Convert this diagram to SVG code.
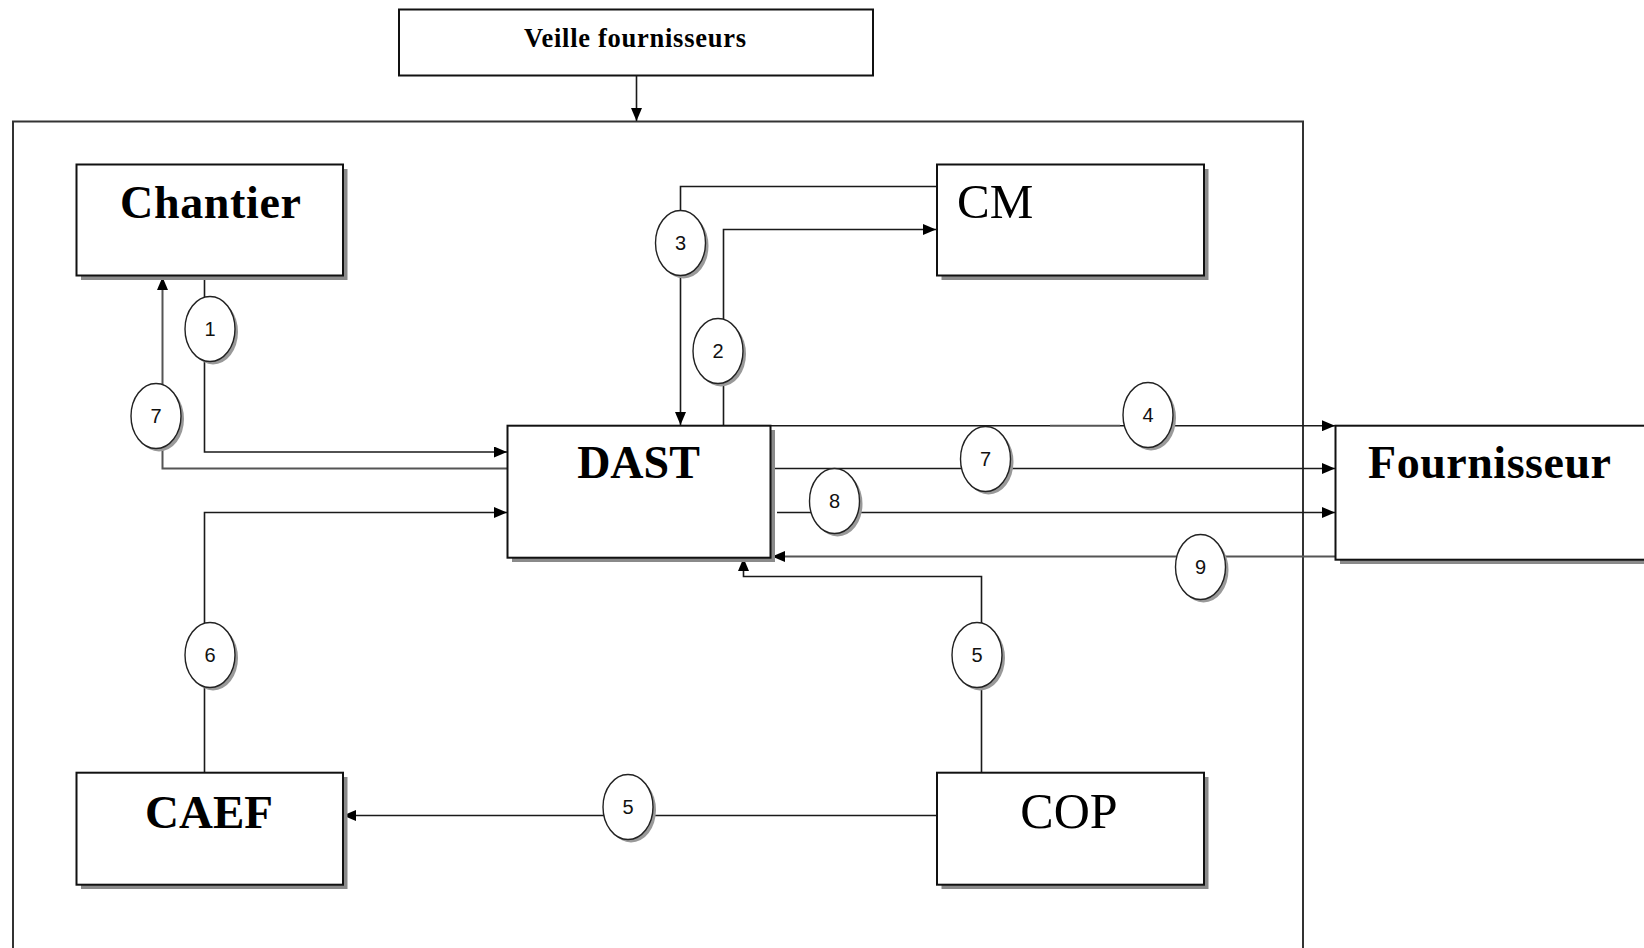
<svg xmlns="http://www.w3.org/2000/svg" width="1644" height="948" viewBox="0 0 1644 948">
<style>
.box{fill:#fff;stroke:#111;stroke-width:2}
.shadow{fill:#8a8a8a}
.outer{fill:none;stroke:#333;stroke-width:2}
.ln{fill:none;stroke:#1a1a1a;stroke-width:1.6}
.lg{fill:none;stroke:#555;stroke-width:2}
.ell{fill:#fff;stroke:#222;stroke-width:1.4}
.esh{fill:#999}
.num{font-family:"Liberation Sans",Arial,sans-serif;font-size:20px;fill:#111;text-anchor:middle}
.tb{font-family:"Liberation Serif","Times New Roman",serif;font-weight:bold;fill:#000}
.tr{font-family:"Liberation Serif","Times New Roman",serif;fill:#000}
</style>
<defs>
<marker id="arr" markerUnits="userSpaceOnUse" markerWidth="13" markerHeight="11" refX="13" refY="5.5" orient="auto">
<path d="M0,0 L13,5.5 L0,11 z" fill="#000"/>
</marker>
</defs>
<rect width="1644" height="948" fill="#fff"/>

<g id="outer">
<rect class="outer" x="13" y="121.5" width="1290" height="840"/>
</g>

<g id="veille">
<rect class="box" x="399" y="9.5" width="474" height="66" stroke-width="1.8"/>
<text class="tb" x="524" y="47" font-size="26.5" textLength="222">Veille fournisseurs</text>
</g>

<g id="connectors">
<path class="ln" d="M636.5,75.5 V121" marker-end="url(#arr)"/>
<path class="ln" d="M204.5,276 V452 H507" marker-end="url(#arr)"/>
<path class="lg" d="M507,468.5 H162.5 V277" marker-end="url(#arr)"/>
<path class="ln" d="M204.5,773 V512.5 H507" marker-end="url(#arr)"/>
<path class="ln" d="M937,186.5 H680.5 V425" marker-end="url(#arr)"/>
<path class="ln" d="M723.5,432 V229.5 H936" marker-end="url(#arr)"/>
<path class="ln" d="M770,425.7 H1050"/>
<path class="lg" d="M1050,425.7 H1120"/>
<path class="ln" d="M1120,425.7 H1335" marker-end="url(#arr)"/>
<path class="ln" d="M772,468.5 H1335" marker-end="url(#arr)"/>
<path class="ln" d="M777,512.5 H1335" marker-end="url(#arr)"/>
<path class="lg" d="M1336,556.5 H772" marker-end="url(#arr)"/>
<path class="ln" d="M981.5,773 V576.5 H743.5 V558" marker-end="url(#arr)"/>
<path class="ln" d="M937,815.5 H343" marker-end="url(#arr)"/>
</g>

<g id="chantier">
<rect class="shadow" x="81" y="169" width="266.5" height="111"/>
<rect class="box" x="76.5" y="164.5" width="266.5" height="111"/>
<text class="tb" x="120" y="218" font-size="46" textLength="181">Chantier</text>
</g>

<g id="cm">
<rect class="shadow" x="941.5" y="169" width="267" height="111"/>
<rect class="box" x="937" y="164.5" width="267" height="111"/>
<text class="tr" x="957" y="218" font-size="49">CM</text>
</g>

<g id="dast">
<rect class="shadow" x="512" y="430" width="263" height="132"/>
<rect class="box" x="507.5" y="425.7" width="263" height="132"/>
<text class="tb" x="638.5" y="478" font-size="46" text-anchor="middle">DAST</text>
</g>

<g id="fournisseur">
<rect class="shadow" x="1340" y="430" width="320" height="134"/>
<rect class="box" x="1335.5" y="425.7" width="320" height="134"/>
<text class="tb" x="1368" y="478" font-size="46" textLength="243">Fournisseur</text>
</g>

<g id="caef">
<rect class="shadow" x="81" y="777" width="266.5" height="112"/>
<rect class="box" x="76.5" y="772.7" width="266.5" height="112"/>
<text class="tb" x="209" y="828" font-size="47" text-anchor="middle">CAEF</text>
</g>

<g id="cop">
<rect class="shadow" x="941.5" y="777" width="267" height="112"/>
<rect class="box" x="937" y="772.7" width="267" height="112"/>
<text class="tr" x="1069" y="828" font-size="50" text-anchor="middle">COP</text>
</g>

<g id="label-1"><ellipse class="esh" cx="213" cy="332" rx="25" ry="32.5"/><ellipse class="ell" cx="210" cy="329" rx="25" ry="32.5"/><text class="num" x="210" y="336">1</text></g>
<g id="label-7a"><ellipse class="esh" cx="159" cy="419" rx="25" ry="32.5"/><ellipse class="ell" cx="156" cy="416" rx="25" ry="32.5"/><text class="num" x="156" y="423">7</text></g>
<g id="label-3"><ellipse class="esh" cx="683.5" cy="246" rx="25" ry="32.5"/><ellipse class="ell" cx="680.5" cy="243" rx="25" ry="32.5"/><text class="num" x="680.5" y="250">3</text></g>
<g id="label-2"><ellipse class="esh" cx="721" cy="354" rx="25" ry="32.5"/><ellipse class="ell" cx="718" cy="351" rx="25" ry="32.5"/><text class="num" x="718" y="358">2</text></g>
<g id="label-4"><ellipse class="esh" cx="1151" cy="418" rx="25" ry="32.5"/><ellipse class="ell" cx="1148" cy="415" rx="25" ry="32.5"/><text class="num" x="1148" y="422">4</text></g>
<g id="label-7b"><ellipse class="esh" cx="988.5" cy="462" rx="25" ry="32.5"/><ellipse class="ell" cx="985.5" cy="459" rx="25" ry="32.5"/><text class="num" x="985.5" y="466">7</text></g>
<g id="label-8"><ellipse class="esh" cx="837.5" cy="504" rx="25" ry="32.5"/><ellipse class="ell" cx="834.5" cy="501" rx="25" ry="32.5"/><text class="num" x="834.5" y="508">8</text></g>
<g id="label-9"><ellipse class="esh" cx="1203.5" cy="570" rx="25" ry="32.5"/><ellipse class="ell" cx="1200.5" cy="567" rx="25" ry="32.5"/><text class="num" x="1200.5" y="574">9</text></g>
<g id="label-6"><ellipse class="esh" cx="213" cy="658" rx="25" ry="32.5"/><ellipse class="ell" cx="210" cy="655" rx="25" ry="32.5"/><text class="num" x="210" y="662">6</text></g>
<g id="label-5a"><ellipse class="esh" cx="980" cy="658" rx="25" ry="32.5"/><ellipse class="ell" cx="977" cy="655" rx="25" ry="32.5"/><text class="num" x="977" y="662">5</text></g>
<g id="label-5b"><ellipse class="esh" cx="631" cy="810" rx="25" ry="32.5"/><ellipse class="ell" cx="628" cy="807" rx="25" ry="32.5"/><text class="num" x="628" y="814">5</text></g>
</svg>
